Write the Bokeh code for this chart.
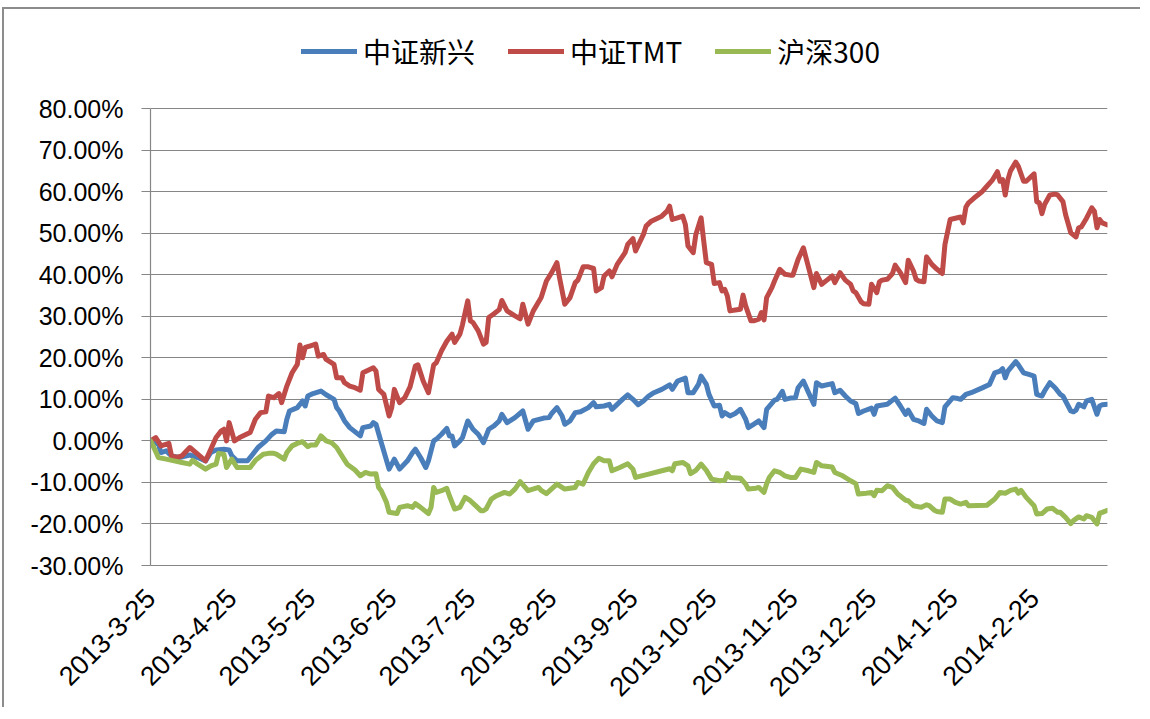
import math
from datetime import datetime
from bokeh.plotting import figure
from bokeh.models import FixedTicker, PrintfTickFormatter, Legend, LegendItem, Range1d
from bokeh.embed import file_html
from bokeh.resources import INLINE

series_names = ["中证新兴", "中证TMT", "沪深300"]
series_colors = ["#4A7EBB", "#BE4B48", "#98B954"]

xinxing_dates = [
    "2013-3-25", "2013-3-28", "2013-3-29", "2013-3-31", "2013-4-2", "2013-4-5", "2013-4-9", "2013-4-12",
    "2013-4-15", "2013-4-17", "2013-4-19", "2013-4-22", "2013-4-24", "2013-4-25", "2013-4-27", "2013-5-1",
    "2013-5-3", "2013-5-5", "2013-5-8", "2013-5-10", "2013-5-12", "2013-5-15", "2013-5-16", "2013-5-17",
    "2013-5-20", "2013-5-22", "2013-5-23", "2013-5-24", "2013-5-26", "2013-5-29", "2013-5-31", "2013-6-3",
    "2013-6-4", "2013-6-5", "2013-6-7", "2013-6-9", "2013-6-13", "2013-6-14", "2013-6-17", "2013-6-18",
    "2013-6-19", "2013-6-21", "2013-6-24", "2013-6-25", "2013-6-26", "2013-6-28", "2013-7-1", "2013-7-3",
    "2013-7-4", "2013-7-6", "2013-7-8", "2013-7-9", "2013-7-11", "2013-7-12", "2013-7-14", "2013-7-16",
    "2013-7-17", "2013-7-18", "2013-7-19", "2013-7-21", "2013-7-22", "2013-7-24", "2013-7-26", "2013-7-28",
    "2013-7-30", "2013-8-1", "2013-8-3", "2013-8-5", "2013-8-6", "2013-8-8", "2013-8-11", "2013-8-14",
    "2013-8-16", "2013-8-18", "2013-8-22", "2013-8-24", "2013-8-25", "2013-8-27", "2013-8-29", "2013-8-30",
    "2013-9-1", "2013-9-3", "2013-9-5", "2013-9-8", "2013-9-10", "2013-9-11", "2013-9-14", "2013-9-16",
    "2013-9-17", "2013-9-19", "2013-9-21", "2013-9-23", "2013-9-25", "2013-9-27", "2013-9-29", "2013-10-1",
    "2013-10-3", "2013-10-6", "2013-10-9", "2013-10-10", "2013-10-12", "2013-10-15", "2013-10-16", "2013-10-18",
    "2013-10-20", "2013-10-21", "2013-10-23", "2013-10-24", "2013-10-26", "2013-10-28", "2013-10-29", "2013-10-30",
    "2013-11-1", "2013-11-3", "2013-11-5", "2013-11-7", "2013-11-8", "2013-11-10", "2013-11-12", "2013-11-14",
    "2013-11-15", "2013-11-18", "2013-11-19", "2013-11-21", "2013-11-22", "2013-11-24", "2013-11-26", "2013-11-27",
    "2013-11-29", "2013-12-1", "2013-12-3", "2013-12-4", "2013-12-6", "2013-12-10", "2013-12-11", "2013-12-13",
    "2013-12-15", "2013-12-17", "2013-12-19", "2013-12-20", "2013-12-22", "2013-12-25", "2013-12-26", "2013-12-27",
    "2013-12-31", "2014-1-3", "2014-1-5", "2014-1-7", "2014-1-8", "2014-1-10", "2014-1-12", "2014-1-14",
    "2014-1-15", "2014-1-17", "2014-1-19", "2014-1-21", "2014-1-22", "2014-1-25", "2014-1-27", "2014-1-28",
    "2014-1-30", "2014-2-1", "2014-2-5", "2014-2-8", "2014-2-10", "2014-2-12", "2014-2-13", "2014-2-14",
    "2014-2-15", "2014-2-18", "2014-2-19", "2014-2-21", "2014-2-23", "2014-2-25", "2014-2-26", "2014-2-28",
    "2014-3-1", "2014-3-3", "2014-3-5", "2014-3-7", "2014-3-8", "2014-3-11", "2014-3-12", "2014-3-13",
    "2014-3-14", "2014-3-16", "2014-3-17", "2014-3-19", "2014-3-21", "2014-3-22", "2014-3-23", "2014-3-25",
]
xinxing_values = [
    0.0, -0.8, -2.8, -2.4, -3.6, -4.0, -3.4, -4.0,
    -4.8, -2.8, -2.2, -2.0, -2.2, -3.6, -4.8, -4.8,
    -3.2, -1.6, 0.0, 1.4, 2.4, 2.2, 5.2, 7.2,
    8.0, 9.6, 8.4, 10.8, 11.4, 12.0, 11.1, 10.0,
    8.0, 7.2, 4.8, 3.2, 1.2, 3.2, 3.6, 4.4,
    4.0, -0.4, -6.8, -5.6, -4.4, -6.8, -4.8, -2.8,
    -2.0, -4.0, -6.4, -4.8, 0.0, 0.4, 1.6, 3.0,
    1.2, 1.2, -1.2, 0.0, 0.8, 4.8, 2.8, 1.6,
    -0.4, 2.8, 3.6, 4.8, 6.4, 4.4, 5.6, 7.2,
    2.8, 4.8, 5.5, 5.6, 6.6, 8.0, 6.0, 4.0,
    4.8, 6.8, 7.0, 8.0, 9.2, 8.2, 8.4, 8.8,
    7.6, 8.8, 10.0, 11.1, 10.0, 8.7, 9.6, 10.8,
    11.6, 12.4, 13.5, 12.4, 14.4, 15.1, 11.6, 11.6,
    13.6, 15.6, 13.6, 11.2, 8.4, 8.6, 6.0, 6.8,
    6.0, 6.6, 7.6, 5.2, 3.2, 4.0, 4.8, 3.2,
    7.6, 9.8, 10.0, 11.9, 10.0, 10.3, 10.4, 12.8,
    14.4, 11.6, 8.8, 14.0, 13.2, 13.8, 11.6, 12.2,
    10.8, 9.6, 9.0, 6.6, 7.2, 7.9, 6.4, 8.4,
    8.8, 10.3, 8.4, 6.4, 7.4, 5.2, 4.8, 4.2,
    7.6, 6.0, 4.8, 4.4, 8.2, 10.4, 10.2, 10.0,
    11.2, 11.6, 12.7, 13.6, 16.4, 16.8, 17.4, 15.2,
    16.8, 19.1, 18.3, 16.4, 16.0, 15.6, 11.2, 10.8,
    12.0, 14.0, 12.8, 11.2, 10.8, 7.2, 7.0, 7.4,
    8.8, 8.2, 9.6, 10.0, 6.4, 8.4, 8.7, 8.8,
]

tmt_dates = [
    "2013-3-25", "2013-3-27", "2013-3-29", "2013-4-1", "2013-4-2", "2013-4-4", "2013-4-6", "2013-4-9",
    "2013-4-12", "2013-4-15", "2013-4-17", "2013-4-19", "2013-4-21", "2013-4-22", "2013-4-23", "2013-4-24",
    "2013-4-26", "2013-4-28", "2013-5-2", "2013-5-4", "2013-5-6", "2013-5-8", "2013-5-9", "2013-5-11",
    "2013-5-13", "2013-5-14", "2013-5-16", "2013-5-18", "2013-5-20", "2013-5-21", "2013-5-22", "2013-5-23",
    "2013-5-25", "2013-5-27", "2013-5-28", "2013-5-30", "2013-5-31", "2013-6-3", "2013-6-4", "2013-6-6",
    "2013-6-7", "2013-6-9", "2013-6-11", "2013-6-13", "2013-6-14", "2013-6-16", "2013-6-18", "2013-6-19",
    "2013-6-20", "2013-6-22", "2013-6-24", "2013-6-25", "2013-6-26", "2013-6-28", "2013-6-30", "2013-7-2",
    "2013-7-4", "2013-7-5", "2013-7-7", "2013-7-9", "2013-7-11", "2013-7-12", "2013-7-14", "2013-7-16",
    "2013-7-18", "2013-7-19", "2013-7-21", "2013-7-22", "2013-7-24", "2013-7-25", "2013-7-26", "2013-7-28",
    "2013-7-30", "2013-7-31", "2013-8-1", "2013-8-3", "2013-8-5", "2013-8-6", "2013-8-8", "2013-8-11",
    "2013-8-13", "2013-8-14", "2013-8-16", "2013-8-18", "2013-8-21", "2013-8-23", "2013-8-25", "2013-8-27",
    "2013-8-28", "2013-8-30", "2013-9-1", "2013-9-3", "2013-9-4", "2013-9-6", "2013-9-8", "2013-9-10",
    "2013-9-11", "2013-9-13", "2013-9-14", "2013-9-16", "2013-9-17", "2013-9-19", "2013-9-22", "2013-9-23",
    "2013-9-25", "2013-9-26", "2013-9-29", "2013-9-30", "2013-10-2", "2013-10-6", "2013-10-8", "2013-10-9",
    "2013-10-10", "2013-10-12", "2013-10-14", "2013-10-15", "2013-10-16", "2013-10-18", "2013-10-19", "2013-10-21",
    "2013-10-22", "2013-10-23", "2013-10-25", "2013-10-26", "2013-10-28", "2013-10-29", "2013-10-30", "2013-10-31",
    "2013-11-1", "2013-11-3", "2013-11-5", "2013-11-6", "2013-11-7", "2013-11-9", "2013-11-10", "2013-11-12",
    "2013-11-13", "2013-11-14", "2013-11-15", "2013-11-17", "2013-11-18", "2013-11-20", "2013-11-22", "2013-11-24",
    "2013-11-25", "2013-11-27", "2013-11-29", "2013-12-1", "2013-12-3", "2013-12-4", "2013-12-6", "2013-12-8",
    "2013-12-10", "2013-12-11", "2013-12-13", "2013-12-15", "2013-12-17", "2013-12-18", "2013-12-19", "2013-12-21",
    "2013-12-22", "2013-12-24", "2013-12-25", "2013-12-27", "2013-12-28", "2013-12-29", "2013-12-31", "2014-1-2",
    "2014-1-3", "2014-1-5", "2014-1-7", "2014-1-8", "2014-1-10", "2014-1-11", "2014-1-12", "2014-1-14",
    "2014-1-15", "2014-1-17", "2014-1-19", "2014-1-21", "2014-1-22", "2014-1-24", "2014-1-28", "2014-1-29",
    "2014-1-30", "2014-1-31", "2014-2-2", "2014-2-5", "2014-2-7", "2014-2-9", "2014-2-11", "2014-2-12",
    "2014-2-13", "2014-2-14", "2014-2-15", "2014-2-16", "2014-2-18", "2014-2-19", "2014-2-21", "2014-2-22",
    "2014-2-25", "2014-2-26", "2014-2-27", "2014-2-28", "2014-3-1", "2014-3-3", "2014-3-5", "2014-3-6",
    "2014-3-8", "2014-3-9", "2014-3-11", "2014-3-13", "2014-3-14", "2014-3-15", "2014-3-17", "2014-3-19",
    "2014-3-20", "2014-3-21", "2014-3-22", "2014-3-23", "2014-3-25",
]
tmt_values = [
    0.0, 0.8, -1.2, -0.6, -3.6, -4.0, -3.6, -1.6,
    -3.2, -4.8, -2.0, 0.8, 2.4, 2.8, 0.0, 4.4,
    0.0, 0.8, 2.0, 5.2, 6.8, 7.0, 10.8, 10.4,
    11.4, 9.2, 13.2, 16.4, 18.4, 23.1, 20.0, 22.5,
    22.9, 23.3, 20.4, 20.8, 19.6, 18.4, 15.2, 15.2,
    14.0, 13.2, 12.8, 12.2, 16.4, 17.0, 17.6, 16.8,
    12.4, 11.2, 6.0, 8.0, 12.4, 9.2, 10.4, 13.0,
    18.0, 18.3, 14.4, 11.6, 18.3, 18.8, 21.7, 24.0,
    25.7, 23.7, 25.7, 28.0, 33.7, 28.9, 28.5, 26.5,
    23.3, 23.7, 29.7, 30.6, 31.6, 33.8, 31.3, 30.1,
    29.4, 32.9, 28.1, 31.3, 34.5, 38.5, 40.5, 42.9,
    39.3, 32.9, 34.5, 38.1, 38.7, 41.9, 41.9, 41.5,
    36.1, 36.9, 39.7, 40.9, 39.5, 42.5, 45.3, 47.3,
    48.7, 45.7, 49.7, 51.7, 52.9, 54.1, 55.3, 56.5,
    53.3, 53.7, 54.1, 52.1, 46.9, 45.3, 49.7, 53.7,
    48.1, 42.9, 42.5, 37.9, 38.1, 36.1, 36.5, 34.9,
    31.3, 31.5, 31.7, 35.1, 32.5, 28.9, 28.9, 29.3,
    30.9, 29.1, 34.5, 36.9, 38.5, 41.3, 40.1, 39.9,
    39.9, 43.7, 46.5, 41.7, 36.9, 40.3, 37.7, 38.7,
    39.7, 38.1, 40.5, 38.7, 37.7, 36.1, 35.7, 33.5,
    33.0, 32.9, 37.7, 35.7, 38.3, 38.7, 38.9, 40.3,
    42.3, 40.5, 38.1, 43.5, 40.9, 38.9, 38.5, 38.3,
    44.3, 42.5, 41.3, 40.3, 47.3, 53.3, 53.9, 52.5,
    56.3, 57.3, 58.4, 59.9, 61.3, 62.7, 64.8, 62.5,
    62.9, 59.2, 62.9, 65.0, 67.1, 66.1, 62.5, 62.5,
    64.3, 57.6, 57.3, 54.7, 56.9, 59.2, 59.4, 59.2,
    57.6, 54.5, 50.1, 49.1, 51.3, 51.5, 53.6, 56.1,
    55.3, 51.3, 53.3, 52.5, 52.0,
]

hs300_dates = [
    "2013-3-25", "2013-3-26", "2013-3-28", "2013-3-31", "2013-4-3", "2013-4-6", "2013-4-9", "2013-4-10",
    "2013-4-12", "2013-4-15", "2013-4-17", "2013-4-19", "2013-4-20", "2013-4-22", "2013-4-23", "2013-4-25",
    "2013-4-27", "2013-5-2", "2013-5-4", "2013-5-7", "2013-5-9", "2013-5-11", "2013-5-12", "2013-5-15",
    "2013-5-16", "2013-5-18", "2013-5-20", "2013-5-22", "2013-5-24", "2013-5-25", "2013-5-27", "2013-5-29",
    "2013-5-31", "2013-6-2", "2013-6-4", "2013-6-6", "2013-6-8", "2013-6-11", "2013-6-13", "2013-6-15",
    "2013-6-17", "2013-6-19", "2013-6-20", "2013-6-21", "2013-6-23", "2013-6-24", "2013-6-27", "2013-6-28",
    "2013-7-1", "2013-7-3", "2013-7-4", "2013-7-6", "2013-7-9", "2013-7-10", "2013-7-11", "2013-7-12",
    "2013-7-14", "2013-7-16", "2013-7-17", "2013-7-19", "2013-7-21", "2013-7-23", "2013-7-25", "2013-7-27",
    "2013-7-29", "2013-7-30", "2013-7-31", "2013-8-2", "2013-8-4", "2013-8-7", "2013-8-9", "2013-8-11",
    "2013-8-13", "2013-8-16", "2013-8-20", "2013-8-21", "2013-8-23", "2013-8-27", "2013-8-30", "2013-9-3",
    "2013-9-4", "2013-9-6", "2013-9-8", "2013-9-10", "2013-9-12", "2013-9-14", "2013-9-16", "2013-9-17",
    "2013-9-20", "2013-9-23", "2013-9-25", "2013-9-26", "2013-10-1", "2013-10-6", "2013-10-9", "2013-10-10",
    "2013-10-11", "2013-10-14", "2013-10-16", "2013-10-17", "2013-10-19", "2013-10-21", "2013-10-23", "2013-10-25",
    "2013-10-28", "2013-10-30", "2013-10-31", "2013-11-1", "2013-11-5", "2013-11-7", "2013-11-8", "2013-11-11",
    "2013-11-12", "2013-11-14", "2013-11-15", "2013-11-16", "2013-11-18", "2013-11-20", "2013-11-22", "2013-11-24",
    "2013-11-26", "2013-11-28", "2013-12-1", "2013-12-3", "2013-12-4", "2013-12-6", "2013-12-10", "2013-12-11",
    "2013-12-14", "2013-12-17", "2013-12-19", "2013-12-20", "2013-12-23", "2013-12-25", "2013-12-26", "2013-12-27",
    "2013-12-29", "2013-12-31", "2014-1-2", "2014-1-4", "2014-1-7", "2014-1-8", "2014-1-10", "2014-1-13",
    "2014-1-15", "2014-1-16", "2014-1-18", "2014-1-19", "2014-1-21", "2014-1-22", "2014-1-24", "2014-1-26",
    "2014-1-28", "2014-1-30", "2014-1-31", "2014-2-7", "2014-2-10", "2014-2-12", "2014-2-14", "2014-2-16",
    "2014-2-18", "2014-2-19", "2014-2-20", "2014-2-22", "2014-2-25", "2014-2-26", "2014-2-28", "2014-3-2",
    "2014-3-4", "2014-3-6", "2014-3-7", "2014-3-9", "2014-3-11", "2014-3-12", "2014-3-14", "2014-3-16",
    "2014-3-17", "2014-3-19", "2014-3-21", "2014-3-22", "2014-3-23", "2014-3-25",
]
hs300_values = [
    0.0, -1.2, -4.0, -4.4, -4.8, -5.2, -5.6, -4.7,
    -5.6, -6.8, -6.0, -5.6, -3.0, -3.2, -6.4, -4.4,
    -6.4, -6.4, -4.7, -3.2, -3.0, -3.0, -3.2, -4.4,
    -2.8, -1.2, -0.6, -0.2, -1.4, -1.0, -1.0, 1.2,
    0.0, -0.4, -1.6, -3.6, -5.6, -7.0, -8.4, -7.6,
    -8.0, -7.9, -11.2, -12.0, -14.8, -17.2, -17.5, -16.0,
    -15.6, -16.0, -15.1, -16.0, -17.5, -16.0, -11.2, -12.4,
    -12.0, -11.4, -13.2, -16.4, -16.0, -13.6, -14.4, -15.6,
    -16.8, -16.8, -16.4, -14.0, -13.2, -12.4, -12.8, -11.6,
    -9.8, -12.0, -11.2, -11.9, -12.7, -10.4, -11.6, -11.2,
    -10.0, -10.4, -7.6, -5.5, -4.2, -4.8, -4.8, -7.2,
    -6.4, -5.5, -6.8, -8.8, -8.0, -7.2, -6.7, -7.2,
    -5.5, -5.2, -6.0, -7.9, -7.1, -5.6, -7.1, -9.2,
    -9.6, -9.5, -7.9, -8.8, -9.0, -10.4, -11.6, -11.4,
    -11.2, -12.4, -10.3, -8.8, -7.2, -7.6, -8.4, -8.8,
    -8.8, -6.8, -7.2, -7.6, -5.2, -6.0, -6.3, -7.6,
    -8.4, -9.6, -10.3, -12.8, -12.6, -12.4, -13.2, -11.9,
    -12.0, -10.8, -11.2, -12.8, -14.3, -14.4, -15.6, -16.0,
    -15.4, -15.6, -16.7, -17.0, -17.2, -14.0, -14.0, -14.8,
    -15.2, -14.8, -15.6, -15.5, -14.0, -12.4, -12.6, -11.9,
    -11.6, -12.6, -11.9, -13.6, -15.6, -17.6, -17.5, -16.4,
    -16.2, -17.2, -17.2, -18.4, -19.9, -19.2, -18.3, -18.8,
    -18.0, -18.4, -20.0, -17.4, -17.2, -16.7,
]

tick_labels = ["2013-3-25", "2013-4-25", "2013-5-25", "2013-6-25", "2013-7-25", "2013-8-25",
               "2013-9-25", "2013-10-25", "2013-11-25", "2013-12-25", "2014-1-25", "2014-2-25"]
axis_start = "2013-3-25"
axis_end = "2014-3-25"
y_ticks = [-30, -20, -10, 0, 10, 20, 30, 40, 50, 60, 70, 80]
y_axis_min, y_axis_max = -30, 80


def to_dt(s):
    return datetime.strptime(s, "%Y-%m-%d")


def to_ms(s):
    return int((to_dt(s) - datetime(1970, 1, 1)).total_seconds() * 1000)


AXIS_GRAY = "#868686"
NUM_FONT = "Liberation Sans"

# the frame reaches above the 80% line to host the legend; the axis itself stops at 80%
p = figure(width=1138, height=700, x_axis_type="datetime",
           output_backend="svg", toolbar_location=None,
           x_range=Range1d(to_dt(axis_start), to_dt(axis_end)),
           y_range=Range1d(y_axis_min, 100),
           min_border_left=146, min_border_right=35,
           min_border_top=16, min_border_bottom=144)
p.styles = {"margin-top": "7px", "margin-left": "2px",
            "border-top": "2px solid #8c8c8c", "border-left": "2px solid #8c8c8c"}
p.outline_line_color = None
p.background_fill_color = "white"
p.border_fill_color = "white"

renderers = []
for dates, vals, color in [(xinxing_dates, xinxing_values, series_colors[0]),
                           (tmt_dates, tmt_values, series_colors[1]),
                           (hs300_dates, hs300_values, series_colors[2])]:
    r = p.line([to_dt(d) for d in dates], vals, line_color=color, line_width=5,
               line_join="round", line_cap="round")
    renderers.append(r)

# y axis
p.yaxis.bounds = (y_axis_min, y_axis_max)
p.yaxis.ticker = FixedTicker(ticks=y_ticks)
p.yaxis.formatter = PrintfTickFormatter(format="%.2f%%")
p.yaxis.axis_line_color = AXIS_GRAY
p.yaxis.axis_line_width = 1.2
p.yaxis.major_tick_line_color = AXIS_GRAY
p.yaxis.major_tick_line_width = 1.2
p.yaxis.major_tick_out = 9
p.yaxis.major_tick_in = 0
p.yaxis.minor_tick_line_color = None
p.yaxis.major_label_text_font = NUM_FONT
p.yaxis.major_label_text_font_size = "25px"
p.yaxis.major_label_text_color = "black"
p.yaxis.major_label_standoff = 18

# x axis
tick_ms = [to_ms(s) for s in tick_labels]
p.xaxis.ticker = FixedTicker(ticks=tick_ms)
p.xaxis.major_label_overrides = {ms: lab for ms, lab in zip(tick_ms, tick_labels)}
p.xaxis.axis_line_color = AXIS_GRAY
p.xaxis.axis_line_width = 1.2
p.xaxis.major_tick_line_color = None
p.xaxis.minor_tick_line_color = None
p.xaxis.major_label_orientation = math.pi / 4
p.xaxis.major_label_text_font = NUM_FONT
p.xaxis.major_label_text_font_size = "27px"
p.xaxis.major_label_text_color = "black"
p.xaxis.major_label_standoff = 22

p.xgrid.grid_line_color = None
p.ygrid.grid_line_color = AXIS_GRAY
p.ygrid.grid_line_width = 1.2

legend = Legend(items=[LegendItem(label=n, renderers=[r]) for n, r in zip(series_names, renderers)],
                orientation="horizontal", location=(151, 494),
                label_text_font="Noto Sans CJK SC", label_text_font_size="28px",
                label_text_color="black", label_height=28,
                glyph_width=56, glyph_height=28, label_standoff=6, spacing=33,
                padding=0, margin=0, border_line_color=None, background_fill_alpha=0)
p.add_layout(legend)

open("out.html", "w").write(file_html(p, INLINE))
